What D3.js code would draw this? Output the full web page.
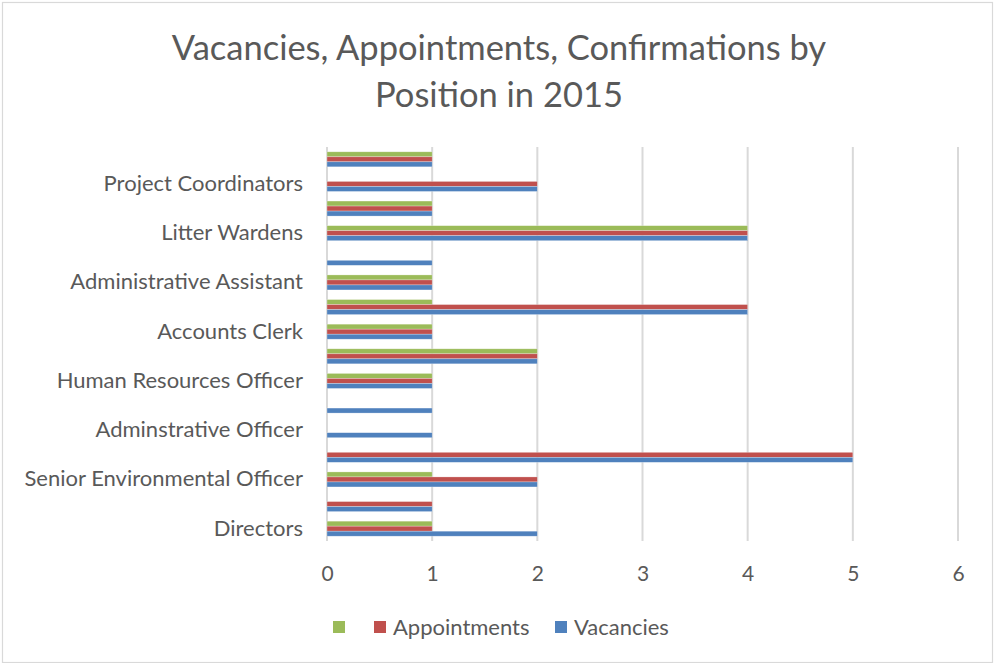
<!DOCTYPE html>
<html>
<head>
<meta charset="utf-8">
<script src="https://cdn.jsdelivr.net/npm/d3@7"></script>
<style>
  html, body { margin: 0; padding: 0; background: #fff; }
  svg { display: block; }
  text { font-family: "Lato", "Open Sans", sans-serif; fill: #595959; }
</style>
</head>
<body>
<svg id="chart" width="994" height="663"></svg>
<script>
// ---- Data (index 0 = bottom row) ----
const categories = [
  "Directors", "",
  "Senior Environmental Officer", "",
  "Adminstrative Officer", "",
  "Human Resources Officer", "",
  "Accounts Clerk", "",
  "Administrative Assistant", "",
  "Litter Wardens", "",
  "Project Coordinators", ""
];
const vacancies     = [2, 1, 2, 5, 1, 1, 1, 2, 1, 4, 1, 1, 4, 1, 2, 1];
const appointments  = [1, 1, 2, 5, 0, 0, 1, 2, 1, 4, 1, 0, 4, 1, 2, 1];
const confirmations = [1, 0, 1, 0, 0, 0, 1, 2, 1, 1, 1, 0, 4, 1, 0, 1];
const seriesNames   = ["", "Appointments", "Vacancies"];   // legend labels (green has no name)
const seriesKeys    = ["confirmations", "appointments", "vacancies"];
const seriesColors  = ["#9bbb59", "#c0504d", "#4f81bd"];
const xTicks        = [0, 1, 2, 3, 4, 5, 6];
const titleLines    = ["Vacancies, Appointments, Confirmations by", "Position in 2015"];

const seriesValues = { confirmations, appointments, vacancies };

const svg = d3.select("#chart");
const W = 994, H = 663;
const plot = { left: 327, right: 958, top: 147, bottom: 541 };

// chart border
svg.append("rect")
  .attr("x", 2.5).attr("y", 2.5).attr("width", W - 4).attr("height", H - 3)
  .attr("fill", "#fff").attr("stroke", "#d9d9d9").attr("stroke-width", 1.2);

// title
svg.append("g").selectAll("text").data(titleLines).join("text")
  .attr("x", 499).attr("y", (d, i) => 60 + i * 47)
  .attr("text-anchor", "middle")
  .attr("font-size", 34.5)
  .text(d => d);

const x = d3.scaleLinear().domain([0, 6]).range([plot.left, plot.right]);
const idx = d3.range(categories.length);
const y = d3.scaleBand().domain(idx).range([plot.bottom, plot.top]).paddingInner(0).paddingOuter(0);
const groupH = y.bandwidth() * 0.61;
const yInner = d3.scaleBand().domain(seriesKeys).range([-groupH / 2, groupH / 2]);

// gridlines
svg.append("g").selectAll("line").data(xTicks).join("line")
  .attr("x1", d => x(d)).attr("x2", d => x(d))
  .attr("y1", plot.top).attr("y2", plot.bottom)
  .attr("stroke", "#d9d9d9").attr("stroke-width", 2);

// bars
const rows = idx.map(i => ({ i, values: seriesKeys.map((k, s) => ({ key: k, s, v: seriesValues[k][i] })) }));
const g = svg.append("g");
g.selectAll("g").data(rows).join("g")
  .attr("transform", d => `translate(0,${y(d.i) + y.bandwidth() / 2})`)
  .selectAll("rect").data(d => d.values.filter(v => v.v > 0)).join("rect")
  .attr("x", x(0))
  .attr("y", d => yInner(d.key))
  .attr("width", d => x(d.v) - x(0))
  .attr("height", yInner.bandwidth())
  .attr("fill", d => seriesColors[d.s])
  .attr("stroke", "#ffffff").attr("stroke-opacity", 0.45).attr("stroke-width", 0.6);

// y axis labels
const labeled = idx.filter(i => categories[i] !== "");
const yAxis = d3.axisLeft(y).tickValues(labeled).tickFormat(i => categories[i]).tickSize(0).tickPadding(24);
const ya = svg.append("g").attr("transform", `translate(${plot.left},0)`).call(yAxis);
ya.select(".domain").remove();
ya.selectAll("text").attr("font-size", 22).style("font-family", "Lato, 'Open Sans', sans-serif").attr("fill", "#595959");

// x axis labels
const xAxis = d3.axisBottom(x).tickValues(xTicks).tickFormat(d3.format("d")).tickSize(0).tickPadding(25);
const xa = svg.append("g").attr("transform", `translate(0,${plot.bottom})`).call(xAxis);
xa.select(".domain").remove();
xa.selectAll("text").attr("font-size", 21).style("font-family", "Lato, 'Open Sans', sans-serif").attr("fill", "#595959");

// legend
const legendItems = [
  { name: seriesNames[0], color: seriesColors[0], x: 333 },
  { name: seriesNames[1], color: seriesColors[1], x: 374 },
  { name: seriesNames[2], color: seriesColors[2], x: 555 }
];
const lg = svg.append("g").selectAll("g").data(legendItems).join("g")
  .attr("transform", d => `translate(${d.x},621)`);
lg.append("rect").attr("width", 12).attr("height", 12).attr("fill", d => d.color);
lg.append("text").attr("x", 19).attr("y", 14).attr("font-size", 22).text(d => d.name);
</script>
</body>
</html>
